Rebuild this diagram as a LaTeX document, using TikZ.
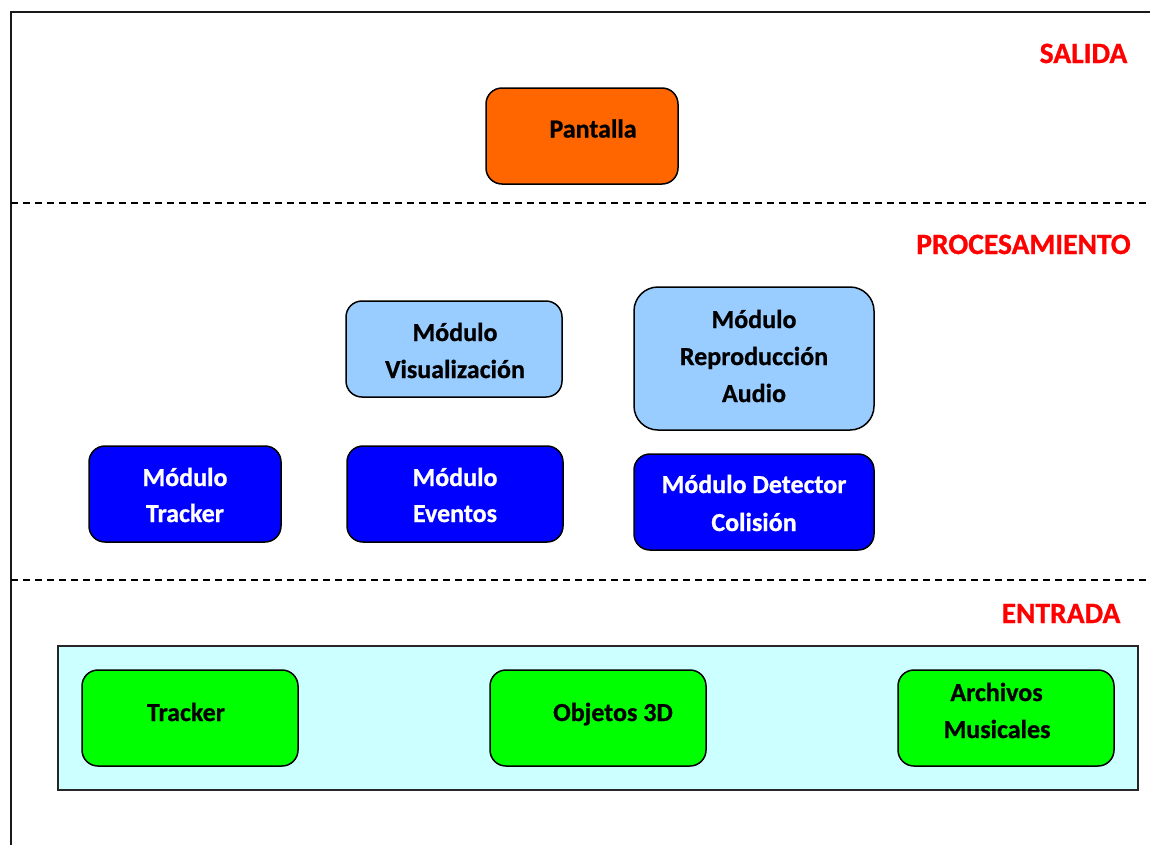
\documentclass[tikz,border=0pt]{standalone}
\usepackage{fontspec}
\setmainfont{Carlito}[BoldFeatures={FakeBold=0.8}]
\definecolor{orangebox}{HTML}{FF6600}
\definecolor{lightbluebox}{HTML}{99CCFF}
\definecolor{bluebox}{HTML}{0000FF}
\definecolor{greenbox}{HTML}{00FF00}
\definecolor{cyanpanel}{HTML}{CCFFFF}
\definecolor{layerred}{HTML}{FF0000}
\begin{document}
\begin{tikzpicture}[x=1pt,y=-1pt,
  box/.style={draw=black, line width=1.5pt, rounded corners=16pt, inner sep=0pt},
  bigbox/.style={box, rounded corners=24pt},
  lbl/.style={anchor=base, inner sep=0pt, font=\fontsize{26}{31}\selectfont\bfseries},
  wlbl/.style={lbl, text=white},
  layer/.style={anchor=base, inner sep=0pt, text=layerred, font=\fontsize{29.5}{35}\selectfont\bfseries},
  sep/.style={line width=1.3pt, dash pattern=on 7pt off 5pt}]
\useasboundingbox (0,0) rectangle (1150,844);
\fill[white] (0,0) rectangle (1150,844);

% outer frame (runs off the page on the right and bottom)
\coordinate (frameTL) at (11,12);
\coordinate (frameTR) at (1152,12);
\coordinate (frameBL) at (11,846);
\draw[line width=2.4pt, black!90] (frameTR) -- (frameTL) -- (frameBL);

% layer separators
\coordinate (s1a) at (11,203);  \coordinate (s1b) at (1152,203);
\coordinate (s2a) at (11,580);  \coordinate (s2b) at (1152,580);
\draw[sep] (s1a) -- (s1b);
\draw[sep] (s2a) -- (s2b);

% layer titles
\node[layer] (salida) at (1083.5,63) {SALIDA};
\node[layer] (proc) at (1023.5,254) {PROCESAMIENTO};
\node[layer] (entrada) at (1061,623) {ENTRADA};

% output layer
\node[box, fill=orangebox, minimum width=192pt, minimum height=96pt] (pan) at (582,136) {};
\node[lbl] (pan-t) at (593,137.5) {Pantalla};

% processing layer
\node[box, fill=lightbluebox, minimum width=216pt, minimum height=96pt] (vis) at (454,349) {};
\node[lbl] (vis-1) at (455,341) {Módulo};
\node[lbl] (vis-2) at (455,378) {Visualización};

\node[bigbox, fill=lightbluebox, minimum width=240pt, minimum height=143pt] (aud) at (754,358.5) {};
\node[lbl] (aud-1) at (754,328) {Módulo};
\node[lbl] (aud-2) at (754,365) {Reproducción};
\node[lbl] (aud-3) at (754,402) {Audio};

\node[box, fill=bluebox, minimum width=192pt, minimum height=96pt] (trk) at (185,494) {};
\node[wlbl] (trk-1) at (185,486) {Módulo};
\node[wlbl] (trk-2) at (185,522) {Tracker};

\node[box, fill=bluebox, minimum width=216pt, minimum height=96pt] (evt) at (455,494) {};
\node[wlbl] (evt-1) at (455,486) {Módulo};
\node[wlbl] (evt-2) at (455,522) {Eventos};

\node[box, fill=bluebox, minimum width=240pt, minimum height=96pt] (col) at (754,502) {};
\node[wlbl] (col-1) at (754,493) {Módulo Detector};
\node[wlbl] (col-2) at (754,531) {Colisión};

% input layer
\node[draw=black!85, line width=1.5pt, fill=cyanpanel, minimum width=1080pt, minimum height=144pt, inner sep=0pt] (panel) at (598,718) {};

\node[box, fill=greenbox, minimum width=216pt, minimum height=96pt] (itrk) at (190,718) {};
\node[lbl] (itrk-t) at (186,721) {Tracker};

\node[box, fill=greenbox, minimum width=216pt, minimum height=96pt] (obj) at (598,718) {};
\node[lbl] (obj-t) at (613,721) {Objetos 3D};

\node[box, fill=greenbox, minimum width=216pt, minimum height=96pt] (mus) at (1006,718) {};
\node[lbl] (mus-1) at (996.5,701) {Archivos};
\node[lbl] (mus-2) at (997,738) {Musicales};
\end{tikzpicture}
\end{document}
